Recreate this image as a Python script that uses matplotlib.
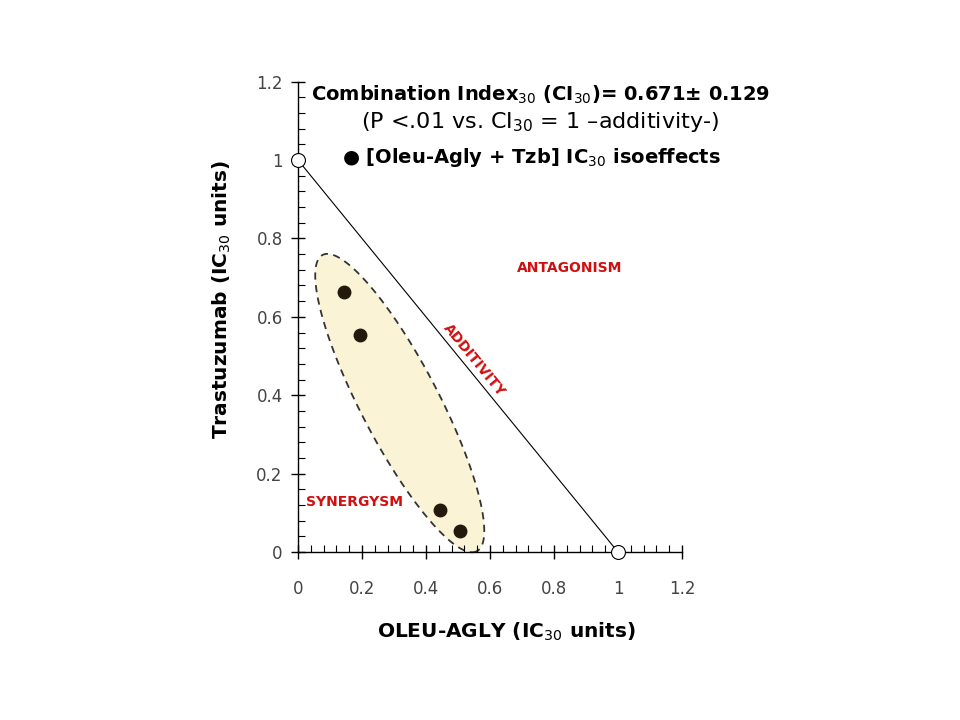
import matplotlib.pyplot as plt
import numpy as np
from matplotlib.ticker import MultipleLocator

# isoeffect points (IC30 units)
oleu_x = [0.144, 0.194, 0.444, 0.506]
tzb_y = [0.663, 0.554, 0.107, 0.054]

# additivity line end points
add_x = [0, 1]
add_y = [1, 0]

# confidence ellipse (center in data units, axes in display px)
ell_center = (0.318, 0.380)
ell_major = 167
ell_minor = 39
ell_angle = 62.5

ticks = [0, 0.2, 0.4, 0.6, 0.8, 1, 1.2]
tick_labels = ['0', '0.2', '0.4', '0.6', '0.8', '1', '1.2']

plt.rcParams['font.family'] = ['DejaVu Sans']

fig = plt.figure(figsize=(9.6, 7.2), dpi=100)
ax = fig.add_axes([0.3104, 0.2333, 0.4, 0.6533])
ax.set_xlim(0, 1.2)
ax.set_ylim(0, 1.2)

# ellipse drawn in display-like units then mapped back to data
sx, sy = 320.0, 392.0
t = np.linspace(0, 2 * np.pi, 300)
a = np.deg2rad(ell_angle)
px = ell_major * np.cos(t) * np.cos(a) - ell_minor * np.sin(t) * np.sin(a)
py = -ell_major * np.cos(t) * np.sin(a) - ell_minor * np.sin(t) * np.cos(a)
ex = ell_center[0] + px / sx
ey = ell_center[1] + py / sy
ax.fill(ex, ey, facecolor='#fbf3d6', edgecolor='#333333', linestyle=(0, (4, 3)),
        linewidth=1.3, zorder=1, clip_on=False)

ax.plot(add_x, add_y, color='black', linewidth=0.8, zorder=2)
ax.plot(add_x, add_y, linestyle='none', marker='o', markersize=10,
        markerfacecolor='white', markeredgecolor='black', markeredgewidth=0.8,
        clip_on=False, zorder=5)

ax.plot(oleu_x, tzb_y, linestyle='none', marker='o', markersize=9,
        color='#231a0c', zorder=4)

for s in ['top', 'right']:
    ax.spines[s].set_visible(False)
ax.spines['left'].set_linewidth(1.0)
ax.spines['bottom'].set_linewidth(1.0)

ax.set_xticks(ticks)
ax.set_xticklabels(tick_labels)
ax.set_yticks(ticks)
ax.set_yticklabels(tick_labels)
ax.xaxis.set_minor_locator(MultipleLocator(0.04))
ax.yaxis.set_minor_locator(MultipleLocator(0.04))
ax.tick_params(which='major', direction='inout', length=10, width=1.0,
               labelsize=12, labelcolor='#444444')
ax.tick_params(axis='x', which='major', pad=15)
ax.tick_params(axis='y', which='major', pad=6)
ax.tick_params(which='minor', direction='in', length=5, width=0.8)

ax.set_xlabel('OLEU-AGLY (IC$_{30}$ units)', fontsize=14.5, fontweight='bold')
ax.set_ylabel('Trastuzumab (IC$_{30}$ units)', fontsize=14.5, fontweight='bold')
ax.xaxis.set_label_coords(0.542, -0.145)
ax.yaxis.set_label_coords(-0.17, 0.536)

ax.text(0.85, 0.724, 'ANTAGONISM', color='#d01010', fontsize=10, fontweight='bold',
        ha='center', va='center')
ax.text(0.552, 0.49, 'ADDITIVITY', color='#d01010', fontsize=10, fontweight='bold',
        ha='center', va='center', rotation=-50.8, rotation_mode='anchor')
ax.text(0.178, 0.128, 'SYNERGYSM', color='#d01010', fontsize=10, fontweight='bold',
        ha='center', va='center')

fig.text(0.5625, 0.868, 'Combination Index$_{30}$ (CI$_{30}$)= 0.671\u00b1 0.129',
         fontsize=14, fontweight='bold', ha='center', va='center')
fig.text(0.5625, 0.830, '(P <.01 vs. CI$_{30}$ = 1 \u2013additivity-)',
         fontsize=16, ha='center', va='center')
fig.text(0.356, 0.781, '\u25cf [Oleu-Agly + Tzb] IC$_{30}$ isoeffects',
         fontsize=14, fontweight='bold', ha='left', va='center')

fig.savefig('out.png', dpi=100)
